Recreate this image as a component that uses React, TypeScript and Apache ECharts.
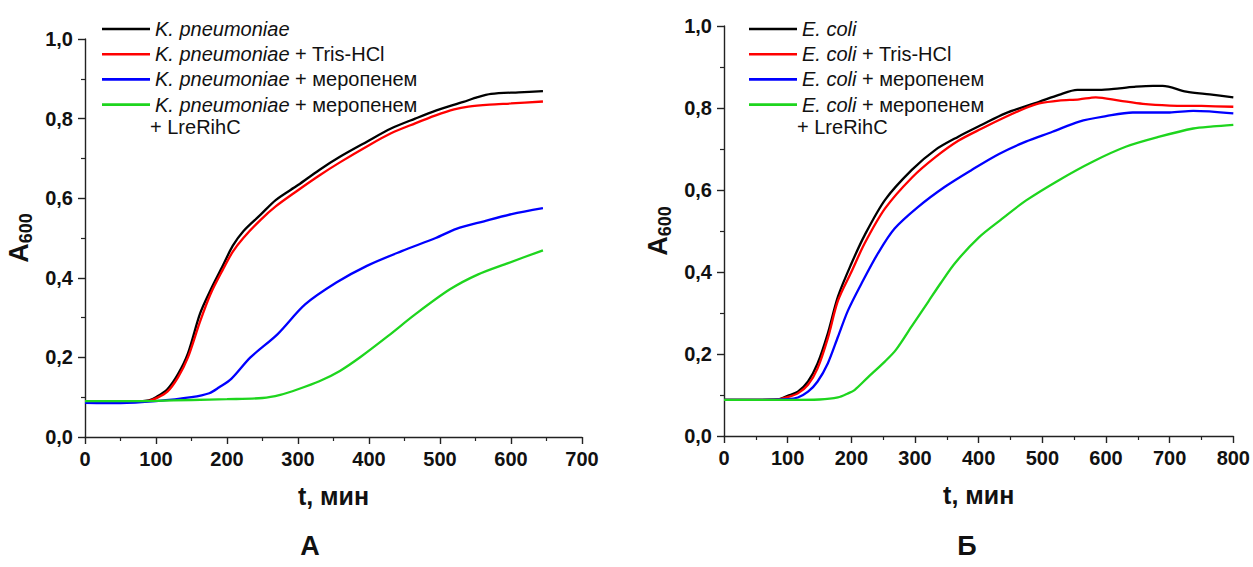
import React, { useEffect, useRef } from "react";
import * as echarts from "echarts";

// ---------- Panel А: K. pneumoniae ----------
const kpBlackT = [0, 50, 90, 100, 116, 131, 145, 162, 177, 194, 208, 223, 247, 269, 300, 330, 359, 397, 431, 465, 494, 533, 553, 572, 611, 645];
const kpBlackY = [0.088, 0.088, 0.092, 0.1, 0.12, 0.158, 0.21, 0.31, 0.37, 0.43, 0.48, 0.517, 0.558, 0.596, 0.633, 0.671, 0.704, 0.742, 0.775, 0.8, 0.82, 0.842, 0.854, 0.862, 0.866, 0.869];

const kpRedT = [0, 50, 90, 100, 116, 131, 145, 162, 177, 194, 208, 223, 247, 269, 300, 330, 359, 397, 431, 465, 494, 520, 540, 570, 600, 645];
const kpRedY = [0.088, 0.088, 0.091, 0.097, 0.114, 0.15, 0.2, 0.29, 0.36, 0.42, 0.465, 0.5, 0.545, 0.58, 0.62, 0.657, 0.69, 0.73, 0.763, 0.788, 0.808, 0.823, 0.83, 0.835, 0.838, 0.843];

const kpBlueT = [0, 50, 100, 150, 175, 189, 206, 233, 271, 310, 354, 397, 446, 494, 523, 562, 601, 645];
const kpBlueY = [0.086, 0.085, 0.09, 0.1, 0.11, 0.125, 0.146, 0.2, 0.258, 0.333, 0.388, 0.43, 0.467, 0.5, 0.523, 0.542, 0.56, 0.575];

const kpGreenT = [0, 50, 100, 150, 200, 250, 275, 300, 330, 359, 388, 427, 465, 514, 553, 596, 645];
const kpGreenY = [0.09, 0.09, 0.091, 0.093, 0.095, 0.098, 0.106, 0.12, 0.14, 0.166, 0.201, 0.254, 0.308, 0.371, 0.408, 0.437, 0.469];

// ---------- Panel Б: E. coli ----------
const ecBlackT = [0, 50, 84, 100, 116, 132, 147, 163, 179, 200, 221, 253, 295, 332, 368, 405, 442, 495, 526, 555, 589, 621, 647, 674, 689, 726, 763, 800];
const ecBlackY = [0.088, 0.088, 0.089, 0.098, 0.108, 0.133, 0.177, 0.25, 0.34, 0.42, 0.49, 0.576, 0.649, 0.698, 0.73, 0.759, 0.787, 0.815, 0.832, 0.844, 0.844, 0.848, 0.852, 0.854, 0.854, 0.84, 0.833, 0.826];

const ecRedT = [0, 50, 84, 100, 116, 132, 147, 163, 179, 200, 221, 253, 295, 332, 368, 405, 442, 474, 495, 526, 558, 584, 621, 658, 700, 750, 800];
const ecRedY = [0.088, 0.088, 0.089, 0.095, 0.104, 0.125, 0.165, 0.238, 0.33, 0.4, 0.47, 0.555, 0.63, 0.68, 0.72, 0.75, 0.778, 0.8, 0.811, 0.818, 0.821, 0.826, 0.818, 0.81, 0.806, 0.805, 0.803];

const ecBlueT = [0, 50, 100, 116, 132, 147, 163, 179, 195, 216, 242, 268, 305, 347, 389, 432, 474, 516, 558, 600, 642, 700, 737, 800];
const ecBlueY = [0.088, 0.088, 0.09, 0.094, 0.108, 0.133, 0.177, 0.242, 0.307, 0.372, 0.446, 0.506, 0.559, 0.608, 0.649, 0.688, 0.718, 0.742, 0.767, 0.78, 0.789, 0.789, 0.793, 0.787];

const ecGreenT = [0, 50, 100, 150, 179, 195, 205, 226, 253, 270, 295, 321, 340, 363, 400, 437, 474, 526, 579, 632, 684, 737, 768, 800];
const ecGreenY = [0.088, 0.088, 0.088, 0.089, 0.094, 0.104, 0.112, 0.143, 0.182, 0.21, 0.268, 0.328, 0.372, 0.422, 0.484, 0.53, 0.574, 0.624, 0.669, 0.706, 0.73, 0.75, 0.755, 0.759];

const kpNames = [
  "K. pneumoniae",
  "K. pneumoniae + Tris-HCl",
  "K. pneumoniae + меропенем",
  "K. pneumoniae + меропенем + LreRihC",
];
const ecNames = [
  "E. coli",
  "E. coli + Tris-HCl",
  "E. coli + меропенем",
  "E. coli + меропенем + LreRihC",
];
const colors = ["#000000", "#ff0000", "#0000ff", "#1ed51e"];
const xMaxA = 700;
const xMaxB = 800;
const panelLabels = ["А", "Б"];
const xName = "t, мин";

const FONT = "'Liberation Sans', Arial, sans-serif";

function pairs(t: number[], y: number[]) {
  return t.map((v, i) => [v, y[i]]);
}

export default function App() {
  const ref = useRef<HTMLDivElement>(null);
  useEffect(() => {
    if (!ref.current) return;
    const chart = echarts.init(ref.current, undefined, { renderer: "svg" });

    const axisLine = { show: true, lineStyle: { color: "#222", width: 1.4 } };
    const axisTick = { show: true, inside: false, length: 7, lineStyle: { color: "#222", width: 1.4 } };
    const minorTick = { show: true, splitNumber: 2, length: 4, lineStyle: { color: "#222", width: 1.2 } };
    const labelStyle = { fontFamily: FONT, fontWeight: "bold" as const, fontSize: 20, color: "#111" };

    const mkX = (idx: number, max: number) => ({
      type: "value",
      gridIndex: idx,
      min: 0,
      max,
      interval: 100,
      axisLine,
      axisTick,
      minorTick,
      splitLine: { show: false },
      axisLabel: { ...labelStyle, margin: 12 },
      name: xName,
      nameLocation: "middle",
      nameGap: 46,
      nameTextStyle: { fontFamily: FONT, fontWeight: "bold", fontSize: 25, color: "#111" },
    });
    const mkY = (idx: number) => ({
      type: "value",
      gridIndex: idx,
      min: 0,
      max: 1,
      interval: 0.2,
      axisLine,
      axisTick,
      minorTick,
      splitLine: { show: false },
      axisLabel: {
        ...labelStyle,
        margin: 12,
        formatter: (v: number) => v.toFixed(1).replace(".", ","),
      },
      name: "{a|A}{s|600}",
      nameLocation: "middle",
      nameGap: 50,
      nameTextStyle: {
        rich: {
          a: { fontFamily: FONT, fontWeight: "bold", fontSize: 27, color: "#111", lineHeight: 32 },
          s: { fontFamily: FONT, fontWeight: "bold", fontSize: 18, color: "#111", lineHeight: 32, verticalAlign: "bottom" },
        },
      },
    });

    const legendFmt = (name: string) => {
      const parts = name.split(" + ");
      const sp = parts[0];
      const rest = parts.slice(1, 2);
      return "{i|" + sp + "}" + (rest.length ? " + " + rest[0] : "");
    };
    const mkLegend = (left: number, names: string[]) => ({
      orient: "vertical",
      left,
      top: 14,
      itemWidth: 48,
      itemHeight: 2.6,
      itemGap: 5.2,
      icon: "rect",
      data: names,
      formatter: legendFmt,
      textStyle: {
        fontFamily: FONT,
        fontSize: 20,
        lineHeight: 20,
        color: "#111",
        rich: { i: { fontFamily: FONT, fontSize: 20, fontStyle: "italic", color: "#111", lineHeight: 20 } },
      },
      selectedMode: false,
    });

    const mkSeries = (name: string, t: number[], y: number[], ci: number, gi: number) => ({
      name,
      type: "line",
      xAxisIndex: gi,
      yAxisIndex: gi,
      data: pairs(t, y),
      symbol: "none",
      smooth: 0.3,
      lineStyle: { color: colors[ci], width: 2.3 },
      itemStyle: { color: colors[ci] },
    });

    chart.setOption({
      animation: false,
      backgroundColor: "#ffffff",
      grid: [
        { left: 85, top: 39, width: 497, height: 398 },
        { left: 724, top: 26, width: 511, height: 410 },
      ],
      xAxis: [mkX(0, xMaxA), mkX(1, xMaxB)],
      yAxis: [mkY(0), mkY(1)],
      legend: [mkLegend(97, kpNames), mkLegend(744, ecNames)],
      series: [
        mkSeries(kpNames[0], kpBlackT, kpBlackY, 0, 0),
        mkSeries(kpNames[1], kpRedT, kpRedY, 1, 0),
        mkSeries(kpNames[2], kpBlueT, kpBlueY, 2, 0),
        mkSeries(kpNames[3], kpGreenT, kpGreenY, 3, 0),
        mkSeries(ecNames[0], ecBlackT, ecBlackY, 0, 1),
        mkSeries(ecNames[1], ecRedT, ecRedY, 1, 1),
        mkSeries(ecNames[2], ecBlueT, ecBlueY, 2, 1),
        mkSeries(ecNames[3], ecGreenT, ecGreenY, 3, 1),
      ],
      graphic: [
        {
          type: "text",
          left: 150,
          top: 117,
          style: { text: "+ LreRihC", fontFamily: FONT, fontSize: 20, fill: "#111" },
        },
        {
          type: "text",
          left: 797,
          top: 117,
          style: { text: "+ LreRihC", fontFamily: FONT, fontSize: 20, fill: "#111" },
        },
        {
          type: "text",
          x: 310,
          y: 546,
          style: { text: panelLabels[0], fontFamily: FONT, fontSize: 27, fontWeight: "bold", fill: "#111", align: "center", verticalAlign: "middle" },
        },
        {
          type: "text",
          x: 967,
          y: 546,
          style: { text: panelLabels[1], fontFamily: FONT, fontSize: 27, fontWeight: "bold", fill: "#111", align: "center", verticalAlign: "middle" },
        },
      ],
    });
    return () => chart.dispose();
  }, []);
  return (
    <div
      ref={ref}
      style={{ position: "fixed", left: 0, top: 0, width: 1253, height: 567, background: "#fff" }}
    />
  );
}
